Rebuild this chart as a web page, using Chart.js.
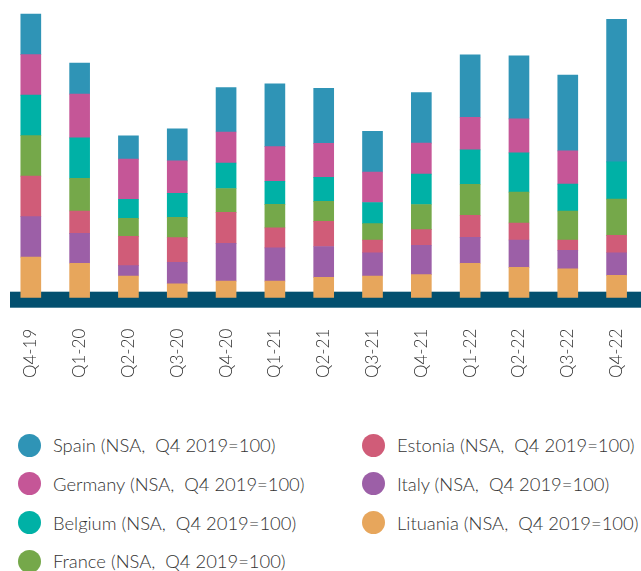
<!DOCTYPE html>
<html>
<head>
<meta charset="utf-8">
<script src="https://cdn.jsdelivr.net/npm/chart.js@4.4.0/dist/chart.umd.min.js"></script>
<style>
html, body { margin: 0; padding: 0; background: #fff; overflow: hidden; }
#wrap { position: relative; width: 641px; height: 571px; }
#chart { position: absolute; left: 0; top: 0; }
.item { position: absolute; display: flex; align-items: center; white-space: pre;
        font-family: Lato, "Open Sans", sans-serif; font-weight: 300; font-size: 18.4px; color: #333; }
.dot { width: 23px; height: 23px; border-radius: 50%; margin-right: 12px; flex: none; }
</style>
</head>
<body>
<div id="wrap">
  <canvas id="chart" width="641" height="420"></canvas>
  <div id="legend"></div>
</div>
<script>
const categories = ['Q4-19', 'Q1-20', 'Q2-20', 'Q3-20', 'Q4-20', 'Q1-21', 'Q2-21', 'Q3-21', 'Q4-21', 'Q1-22', 'Q2-22', 'Q3-22', 'Q4-22']

// index values, NSA, Q4 2019 = 100
const spain    = [100, 76.5, 57.5, 79, 110, 155, 136, 101, 125, 154, 155.5, 187, 352]
const germany  = [100, 108, 99, 80.5, 76.5, 85.5, 84, 75, 76.5, 80.5, 84, 82, null]
const belgium  = [100, 99.5, 47, 59, 63, 57, 59, 52, 75, 85, 97, 66.5, 92]
const france   = [100, 81, 44.5, 50, 59, 58, 49.5, 41, 62, 76.5, 76, 71.5, 89.5]
const estonia  = [100, 55, 72.5, 61, 76.5, 49.5, 62, 31, 38.5, 54.5, 42, 25.5, 43]
const italy    = [100, 74, 25.5, 53.5, 93, 82, 76.5, 57.5, 72.5, 64, 67.5, 46, 56]
const lituania = [100, 85, 53.5, 34, 41, 41, 50, 53.5, 57, 85, 75, 71, 55]

const suffix = ' (NSA,  Q4 2019=100)'

// bottom of the stack first
const series = [
    { name: 'Lituania', data: lituania, color: '#e7a65c' },
    { name: 'Italy',    data: italy,    color: '#9c5fa7' },
    { name: 'Estonia',  data: estonia,  color: '#d05c78' },
    { name: 'France',   data: france,   color: '#75a84a' },
    { name: 'Belgium',  data: belgium,  color: '#00b1a6' },
    { name: 'Germany',  data: germany,  color: '#c55697' },
    { name: 'Spain',    data: spain,    color: '#2f94b6' }
]

// legend order: left column then right column
const legendOrder = ['Spain', 'Germany', 'Belgium', 'France', 'Estonia', 'Italy', 'Lituania']

// dark band under the bars
const band = {
    id: 'band',
    beforeDatasetsDraw(chart) {
        const ctx = chart.ctx
        const y0 = chart.scales.y.getPixelForValue(0)
        ctx.save()
        ctx.fillStyle = '#03506f'
        ctx.fillRect(10, y0 - 6, chart.width - 10, 16)
        ctx.restore()
    }
}

const canvas = document.getElementById('chart')
new Chart(canvas, {
    type: 'bar',
    data: {
        labels: categories,
        datasets: series.map(s => ({
            label: s.name + suffix,
            data: s.data,
            backgroundColor: s.color,
            borderWidth: 0,
            barThickness: 20
        }))
    },
    options: {
        responsive: false,
        animation: false,
        layout: { padding: { left: 6.4, right: -4.8, top: 0, bottom: 0 } },
        plugins: {
            legend: { display: false },
            tooltip: { enabled: false }
        },
        scales: {
            x: {
                stacked: true,
                grid: { display: false, drawTicks: false },
                border: { display: false },
                ticks: {
                    minRotation: 90,
                    maxRotation: 90,
                    padding: 31,
                    color: '#333',
                    font: { family: 'Lato', size: 17, weight: 300 }
                },
                afterFit(scale) {
                    scale.height = 122.3
                    scale.paddingLeft = 0
                    scale.paddingRight = 0
                }
            },
            y: {
                stacked: true,
                display: false,
                min: 0,
                max: 735
            }
        }
    },
    plugins: [band]
})

const legend = document.getElementById('legend')
legendOrder.forEach((name, i) => {
    const s = series.find(d => d.name === name)
    const col = i < 4 ? 0 : 1
    const row = i < 4 ? i : i - 4
    const item = document.createElement('div')
    item.className = 'item'
    item.style.left = (col === 0 ? 18 : 362) + 'px'
    item.style.top = (445 + row * 38.8 - 12) + 'px'
    item.style.height = '24px'
    const dot = document.createElement('span')
    dot.className = 'dot'
    dot.style.backgroundColor = s.color
    const txt = document.createElement('span')
    txt.textContent = s.name + suffix
    item.appendChild(dot)
    item.appendChild(txt)
    legend.appendChild(item)
})
</script>
</body>
</html>
